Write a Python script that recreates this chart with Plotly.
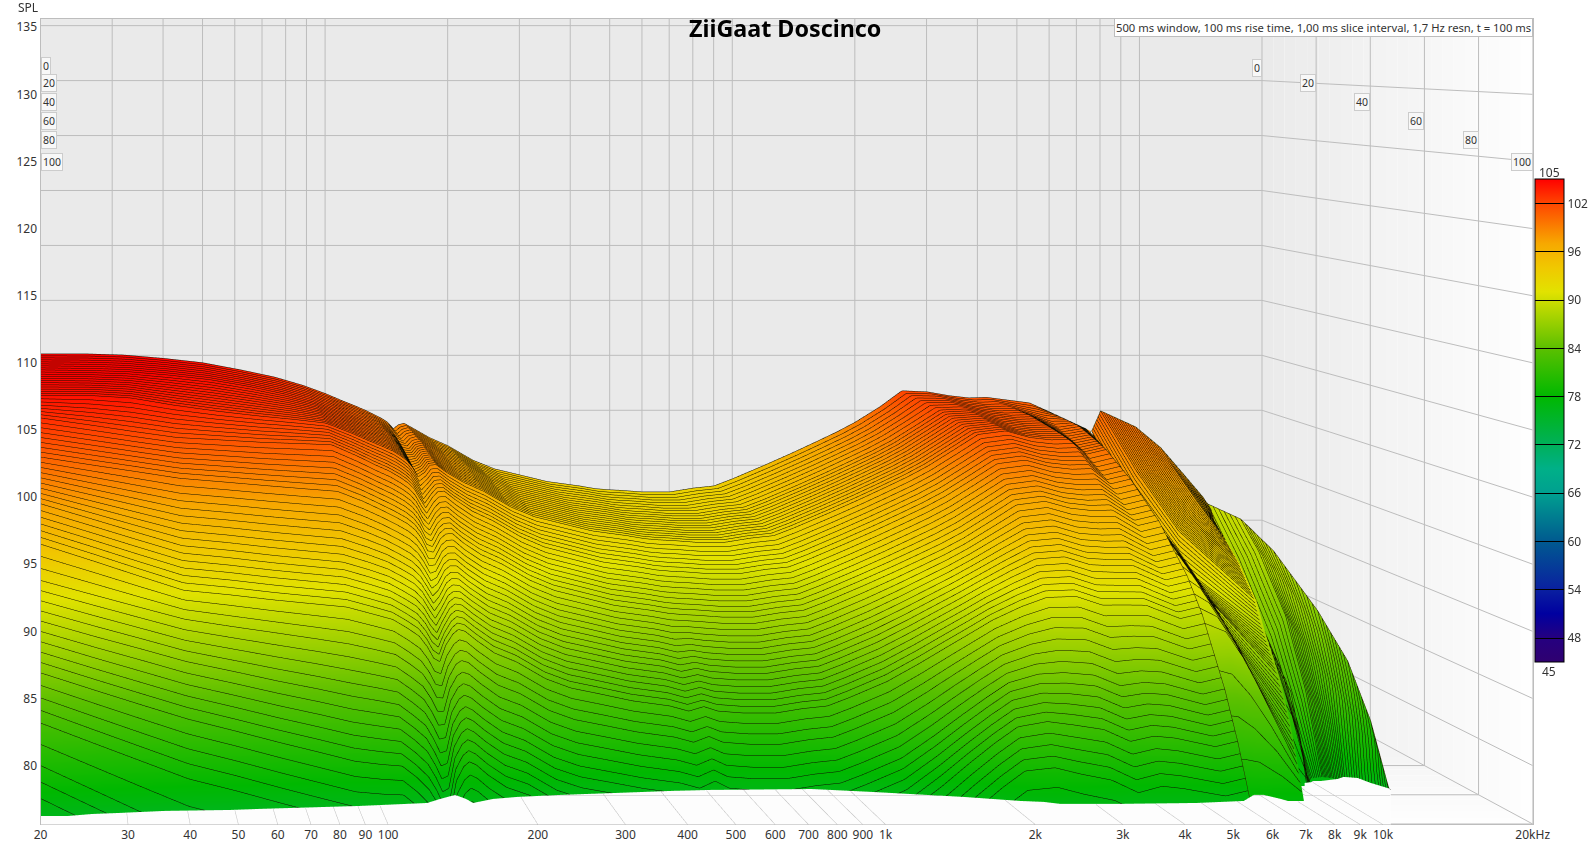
import numpy as np
import plotly.graph_objects as go

# ---------- chart values ----------
TITLE = "ZiiGaat Doscinco"
INFO = "500 ms window, 100 ms rise time, 1,00 ms slice interval, 1,7 Hz resn, t = 100 ms"
FREQ_TICKS = [20,30,40,50,60,70,80,90,100,200,300,400,500,600,700,800,900,1000,2000,3000,4000,5000,6000,7000,8000,9000,10000,20000]
FREQ_TEXT = ["20","30","40","50","60","70","80","90","100","200","300","400","500","600","700","800","900","1k","2k","3k","4k","5k","6k","7k","8k","9k","10k","20kHz"]
SPL_TICKS = [80,85,90,95,100,105,110,115,120,125,130,135]
TIME_TICKS = [0,20,40,60,80,100]
CBAR_TICKS = [48,54,60,66,72,78,84,90,96,102]

SLICE_MS = [0,20,40,50,60,70,76,80,85,90,94,97,99,100]
# running count of the drawn slice lines reached at each SLICE_MS row
LINE_COUNT = [0,8,20,27,35,44,50,53,57,62,66,68,70,71]
FREQ_HZ = [20,26,32,40,50,62,75,88,100,110,118,125,130,134,138,142,147,151,156,165,180,200,230,260,300,350,420,460,495,530,600,700,800,900,1000,1200,1400,1600,1800,2000,2300,2600,3000,3400,3800,4200]
# SPL per frequency, one value per slice in SLICE_MS
SPL_BY_FREQ = [
[105.2,105.1,104.2,103,100.5,97.5,94.8,92.3,89.6,86.1,82.7,79.8,77.55,76.3],
[105.2,105.05,104.2,102.4,99.85,96.25,93.45,91.15,88.4,84.75,81.1,77.85,75.5,74.2],
[105.1,104.95,104,101.9,99.35,95.25,92.35,90.25,87.5,83.7,79.85,76.3,73.9,72.6],
[104.8,104.65,103.4,101.4,98.8,94.2,91.2,89.3,86.5,82.6,78.5,74.7,72.1,70.8],
[104.4,104.25,102.9,101.2,98.5,93.85,90.85,88.75,85.75,81.7,77.6,73.8,71.25,70],
[103.75,103.65,102.5,101,98.2,93.45,90.45,88.25,85,80.8,76.65,72.9,70.35,69.25],
[103.1,103,102.2,100.9,97.95,93.15,90.15,87.8,84.4,80.05,75.85,72.15,69.6,68.55],
[102.35,102.3,101.9,100.8,97.75,92.9,89.9,87.4,83.85,79.4,75.2,71.5,69,68],
[101.6,101.55,101.1,99.9,96.95,92.3,89.35,86.95,83.5,79.15,75.1,71.55,69.1,68.1],
[100.95,100.9,100.43,99.15,96.23,91.78,88.93,86.58,83.2,79.03,75.1,71.7,69.32,68.29],
[100.5,100.45,99.96,98.65,95.66,91.18,88.26,85.83,82.37,78.16,74.17,70.72,68.36,67.33],
[100.1,100.05,99.55,98.11,95.14,90.63,87.63,85.13,81.6,77.23,73.19,69.59,67.25,66.21],
[99.8,99.75,99.14,97.67,94.62,89.98,86.8,84.23,80.52,76.2,72.01,68.36,66.04,64.99],
[99.55,99.4,98.78,97.18,93.95,89.17,85.92,83.27,79.5,75.12,71.07,67.57,65.27,64.22],
[99.3,98.95,98.21,96.38,92.98,88.47,85.65,83.22,79.67,75.45,71.54,68.39,66.11,65.06],
[99.0,98.35,97.4,95.64,92.86,89.22,86.92,84.82,81.7,77.92,74.36,71.26,69,67.94],
[98.4,98.25,97.79,96.5,93.94,90.27,87.79,85.82,82.72,78.99,75.38,72.33,70.09,69.02],
[98.75,98.75,98.38,96.96,94.32,90.61,88.16,86.11,83.05,79.36,75.79,72.79,70.57,69.5],
[98.9,98.9,98.43,97.01,94.37,90.56,88.01,85.96,82.8,79.11,75.54,72.44,70.22,69.15],
[98.4,98.35,97.76,96.31,93.6,89.86,87.29,85.21,82.07,78.34,74.81,71.86,69.66,68.59],
[97.6,97.55,96.95,95.37,92.68,88.91,86.31,84.21,81.1,77.41,73.93,71.03,68.85,67.77],
[96.85,96.8,96.19,94.58,91.91,88.21,85.63,83.56,80.47,76.83,73.4,70.55,68.39,67.3],
[95.55,95.5,94.89,93.28,90.61,86.91,84.33,82.26,79.17,75.53,72.1,69.25,67.09,66],
[94.75,94.7,94.08,92.43,89.79,86.15,83.6,81.55,78.5,74.9,71.51,68.71,66.57,65.48],
[94.2,94.15,93.51,91.84,89.22,85.65,83.13,81.1,78.07,74.53,71.18,68.43,66.31,65.22],
[93.6,93.55,92.9,91.2,88.6,85.1,82.6,80.6,77.6,74.1,70.8,68.1,66,64.9],
[93.2,93.15,92.5,90.8,88.2,84.7,82.2,80.2,77.2,73.7,70.4,67.7,65.6,64.5],
[92.95,92.9,92.25,90.55,87.95,84.3,81.8,79.8,76.8,73.3,70,67.3,65.2,64.1],
[92.85,92.8,92.15,90.45,87.85,84.55,82.15,80.25,77.35,73.85,70.55,67.85,65.75,64.65],
[92.8,92.75,92.1,90.4,87.8,84.3,81.8,79.8,76.8,73.3,70,67.3,65.2,64.1],
[92.65,92.6,91.95,90.25,87.65,84.15,81.65,79.65,76.65,73.15,69.85,67.15,65.05,63.95],
[92.65,92.6,91.95,90.25,87.65,84.15,81.65,79.65,76.65,73.15,69.85,67.15,65.05,63.95],
[93,92.95,92.3,90.6,88,84.5,82,80,77,73.5,70.2,67.5,65.4,64.3],
[93.2,93.15,92.5,90.8,88.2,84.7,82.2,80.2,77.2,73.7,70.4,67.7,65.6,64.5],
[93.85,93.8,93.15,91.45,88.85,85.35,82.85,80.85,77.85,74.35,71.05,68.35,66.25,65.15],
[95.1,95.05,94.4,92.7,90.1,86.6,84.1,82.1,79.1,75.6,72.3,69.6,67.5,66.4],
[96.2,96.15,95.5,93.8,91.2,87.86,85.48,83.6,80.8,77.5,74.32,71.66,69.6,68.5],
[97.2,97.15,96.5,94.8,92.2,89.02,86.76,85,82.4,79.3,76.24,73.62,71.6,70.5],
[98.1,98.05,97.4,95.7,93.1,90.04,87.87,86.2,83.75,80.8,77.83,75.24,73.25,72.15],
[99,98.95,98.3,96.6,94,91,88.88,87.25,84.88,82,79.08,76.5,74.53,73.43],
[100.4,100.35,99.7,98,95.4,92.2,89.93,88.15,85.53,82.4,79.33,76.7,74.68,73.58],
[101.85,101.6,100.95,99.25,96.65,93.15,90.65,88.65,85.65,82.15,78.85,76.15,74.05,72.95],
[101.75,101.7,101.25,99.55,96.95,93.32,90.72,88.62,85.46,81.8,78.4,75.67,73.54,72.44],
[101.4,101.35,100.7,99,96.4,92.7,90.05,87.9,84.65,80.9,77.45,74.7,72.55,71.45],
[101.2,101.15,100.5,98.8,96.2,92.62,90.06,88,84.9,81.3,77.94,75.22,73.1,72],
[101.25,101.2,100.55,98.85,96.25,92.63,90.04,87.95,84.8,81.15,77.76,75.03,72.9,71.8],
]
# last columns of the main body move with time, so each has its own Hz per slice
CREASE_HZ = [5347,4921,4560,4624,4770,4915,4959,4966,5027,5072,5108,5148,5164,5182]
CREASE_SPL = [100.75,100.1,99.3,97.6,95,91.5,89,87,84,80.5,77.2,74.5,72.4,71.3]
CREST_HZ = [5930,5458,5058,5129,5290,5451,5500,5508,5576,5626,5666,5710,5728,5748]
CREST_SPL = [100,100.35,99.7,98,95.4,91.9,89.4,87.4,84.4,80.9,77.6,74.9,72.8,71.7]
EDGE_HZ = [7551,5868,5073,5144,5306,5467,5516,5525,5593,5643,5683,5727,5745,5765]
EDGE_SPL = [98.2,99.65,99.6,97.9,95.3,91.8,89.3,87.3,84.3,80.8,77.5,74.8,72.7,71.6]

# the two high-frequency fins: one row per traced slice, points along the slice
FIN1_SLICE = [36,41,46,53,66,73,83,90,96,100]
FIN1_MS = [[50,50,53,53,53],[40,44,50,53,57],[25,35,44,53,60.5],[15,25,40,53,66],[5,15,40,57,74],
           [15,25,50,66,80],[25,50,60.5,74,87.5],[57,60.5,74,80,93],[80,80,87.5,93,97.5],[100,100,100,100,100]]
FIN1_LOG10HZ = [[3.871,3.875,3.865,3.869,3.8735],[3.876,3.869,3.8558,3.8603,3.8594],[3.9065,3.8708,3.8555,3.845,3.8627],
                [3.9029,3.8711,3.833,3.8273,3.8672],[3.8747,3.848,3.7721,3.7811,3.8654],[3.7982,3.7736,3.7097,3.7427,3.8534],
                [3.767,3.7097,3.7349,3.7682,3.8474],[3.7199,3.7565,3.7577,3.8033,3.8438],[3.7199,3.7721,3.7793,3.7949,3.8396],
                [3.7025,3.7328,3.7592,3.8075,3.8396]]
FIN1_SPL = [[96.46,96.21,96.2,95.95,95.63],[97.73,97.22,96.71,95.95,95.14],[98.71,98.36,97.38,96.2,94.07],
            [99.75,99.06,97.73,95.46,92.52],[100.41,99.39,97.9,94.33,90.18],[99.39,98.28,96.21,92.28,88.39],
            [98.45,97.03,94.23,90.18,85.61],[95.14,93.43,90.97,86.85,82.71],[89.17,88.39,86.75,84.22,79.77],
            [77.06,77.44,77.88,77.44,77.44]]
FIN2_SLICE = [40,45,50,57,65,73,79,84,88]
FIN2_MS = [[100,100,100,100,100],[89,89,100,100,100],[76,89,89,100,100],[59,76,89,89,100],[35,59,76,89,100],
           [17,35,59,89,100],[0,35,76,89,100],[59,76,89,89,100],[89,100,100,100,100]]
FIN2_LOG10HZ = [[4.01,4.0112,4.0121,4.0133,4.0142],[4.0283,4.0367,3.9839,3.986,3.9899],[4.0472,3.9935,4.0037,3.9539,3.9578],
                [4.0736,4.0031,3.9566,3.9668,3.9236],[4.1099,4.0151,3.965,3.9299,3.8975],[4.1402,4.0757,4.004,3.8951,3.8774],
                [4.166,4.0235,3.881,3.8705,3.8573],[3.863,3.8684,3.8642,3.8849,3.8453],[3.8231,3.803,3.8225,3.8411,3.8633]]
FIN2_SPL = [[78.41,78.33,78.33,78.29,78.26],[82.34,80.82,80.79,79.67,78.55],[85.69,84.62,81.96,80.79,78.55],
            [88.06,86.86,84.62,80.82,78.55],[90.76,89.67,86.47,82.72,78.93],[91.83,90.76,87.66,84.62,78.93],
            [91.56,89.92,87.25,82.34,78.93],[88.87,87.25,84.62,80.82,78.55],[80.82,79.67,78.55,78.55,78.55]]
FIN2_COLOUR_SHIFT_DB = -2.0

# where the coloured surface is cut off at the front
CUT_HZ = [20,22.7,25.4,28.9,35.6,48.1,55.3,87.7,119.7,127.1,136.2,143.3,148,162.4,181.5,221.6,288.4,372,443.7,708.2,939.9,1432,1863,2073,2243,2892,4208,5234,5353,5481,5741,6210,6415,6923,6937,8083,8310,8865,9416,10330]
CUT_SPL = [76.32,76.32,76.47,76.55,76.7,76.77,76.85,77.07,77.29,77.59,77.89,77.59,77.29,77.59,77.74,77.89,78.04,78.19,78.26,78.33,78.11,77.74,77.44,77.37,77.22,77.22,77.29,77.44,77.66,77.89,77.89,77.59,77.44,77.44,78.78,79.08,79.23,79.15,78.78,78.33]

# ---------- styles and layout ----------
W, H = 1590, 849
LEFT, RIGHT, TOP, BOTTOM = 40.5, 1532.7, 18.5, 824.0
SPL_MAX, SPL_MIN = 135.65, 75.65
BACK_SCALE = 0.8186
GRID = "#bdbdbd"
TEXT = "#333333"
FONT = "Noto Sans"
LINE = "#0f0f00"
COLORSCALE = [[(v-45)/60, c] for v, c in [
    (45,"#2f0070"),(48,"#250080"),(51,"#0000a0"),(54,"#0a20a0"),(60,"#005a90"),(66,"#00a090"),(69,"#00b088"),
    (72,"#00b05a"),(78,"#00b800"),(84,"#5cc000"),(91,"#e2e200"),(94,"#f0c800"),(97,"#f7a800"),(102,"#ff4500"),(105,"#ff0000")]]
FIN2_Z, FIN1_Z, MAIN_Z, CUT_Z, FLOOR_Z, Z_TOP = 0, 150, 300, 500, 550, 600
Z_ASPECT = 4.0
FIT = 2.0
CAM_DIST = 0.5
LEFT_LABEL_Y = [66, 83, 102, 121, 140, 162]
RIGHT_LABEL_Y = [67.7, 83, 102, 121, 140, 162]

LOG20, LOG20K = np.log10(20.0), np.log10(20000.0)

def depth_scale(ms):
    return BACK_SCALE + (1 - BACK_SCALE) * np.asarray(ms, float) / 100.0

def proj_logf(log10hz, ms):
    return LOG20 + depth_scale(ms) * (np.asarray(log10hz, float) - LOG20)

def proj_spl(spl, ms):
    return SPL_MAX - depth_scale(ms) * (SPL_MAX - np.asarray(spl, float))

def floor_strips():
    out = []
    n = 24
    for i in range(n):
        a, b = 100.0*i/n, 100.0*(i+1)/n
        g = int(234 + 21 * (i + 0.5) / n)
        col = f"rgb({g},{g},{g})"
        wx = [proj_logf(LOG20K, a), proj_logf(LOG20K, b), proj_logf(LOG20K, b), proj_logf(LOG20K, a), proj_logf(LOG20K, a)]
        wy = [proj_spl(SPL_MAX, a), proj_spl(SPL_MAX, b), proj_spl(SPL_MIN, b), proj_spl(SPL_MIN, a), proj_spl(SPL_MAX, a)]
        out.append(go.Scatter(x=10**np.array(wx), y=wy, mode="lines", fill="toself", fillcolor=col, line=dict(width=0), hoverinfo="skip", showlegend=False))
        fx = [proj_logf(LOG20, a), proj_logf(LOG20K, a), proj_logf(LOG20K, b), proj_logf(LOG20, b), proj_logf(LOG20, a)]
        fy = [proj_spl(SPL_MIN, a), proj_spl(SPL_MIN, a), proj_spl(SPL_MIN, b), proj_spl(SPL_MIN, b), proj_spl(SPL_MIN, a)]
        out.append(go.Scatter(x=10**np.array(fx), y=fy, mode="lines", fill="toself", fillcolor=col, line=dict(width=0), hoverinfo="skip", showlegend=False))
    return out

traces = []
bx = 10**proj_logf(np.array([LOG20, LOG20K, LOG20K, LOG20, LOG20]), 0)
by = proj_spl(np.array([SPL_MAX, SPL_MAX, SPL_MIN, SPL_MIN, SPL_MAX]), 0)
traces.append(go.Scatter(x=bx, y=by, mode="lines", fill="toself", fillcolor="rgb(234,234,234)", line=dict(width=0), hoverinfo="skip", showlegend=False))
traces += floor_strips()

gx, gy = [], []
def seg(f1, t1, s1, f2, t2, s2):
    gx.extend([10**proj_logf(np.log10(f1), t1), 10**proj_logf(np.log10(f2), t2), None])
    gy.extend([float(proj_spl(s1, t1)), float(proj_spl(s2, t2)), None])
for f in FREQ_TICKS:
    seg(f, 0, SPL_MIN, f, 0, SPL_MAX)
    seg(f, 0, SPL_MIN, f, 100, SPL_MIN)
for s in SPL_TICKS:
    seg(20, 0, s, 20000, 0, s)
    seg(20000, 0, s, 20000, 100, s)
for t in TIME_TICKS[1:]:
    seg(20000, t, SPL_MIN, 20000, t, SPL_MAX)
    seg(20, t, SPL_MIN, 20000, t, SPL_MIN)
traces.append(go.Scatter(x=gx, y=gy, mode="lines", line=dict(color=GRID, width=1), hoverinfo="skip", showlegend=False))

SURF = dict(cmin=45, cmax=105, colorscale=COLORSCALE, hoverinfo="skip",
            lighting=dict(ambient=1, diffuse=0, specular=0, roughness=1, fresnel=0), scene="scene")

def contour(base):
    return dict(z=dict(show=True, start=base+0.02, end=base+100, size=1, color=LINE, width=1, usecolormap=False, highlight=False),
                x=dict(highlight=False), y=dict(highlight=False))

for ms, lf, spl, sl, base, shift in [(FIN2_MS, FIN2_LOG10HZ, FIN2_SPL, FIN2_SLICE, FIN2_Z, FIN2_COLOUR_SHIFT_DB), (FIN1_MS, FIN1_LOG10HZ, FIN1_SPL, FIN1_SLICE, FIN1_Z, 0.0)]:
    ms = np.array(ms, float); lf = np.array(lf, float); spl = np.array(spl, float)
    z = np.repeat(np.array(sl, float)[:, None] + base, spl.shape[1], axis=1)
    traces.append(go.Surface(x=proj_logf(lf, ms), y=proj_spl(spl, ms), z=z, surfacecolor=spl + shift, showscale=False, contours=contour(base), **SURF))
    traces.append(go.Scatter3d(x=proj_logf(lf, ms)[:, 0], y=proj_spl(spl, ms)[:, 0], z=np.full(len(sl), base + 120.0), mode="lines",
                               line=dict(color="#2a2a00", width=1), hoverinfo="skip", showlegend=False, scene="scene"))

t_arr = np.array(SLICE_MS, float)
spl_main = np.column_stack([np.array(SPL_BY_FREQ, float).T, CREASE_SPL, CREST_SPL, EDGE_SPL])
log_main = np.column_stack([np.tile(np.log10(FREQ_HZ), (len(t_arr), 1)), np.log10(CREASE_HZ), np.log10(CREST_HZ), np.log10(EDGE_HZ)])
ms_main = np.tile(t_arr[:, None], (1, spl_main.shape[1]))
z_main = np.tile(np.array(LINE_COUNT, float)[:, None], (1, spl_main.shape[1])) + MAIN_Z
traces.append(go.Surface(x=proj_logf(log_main, ms_main), y=proj_spl(spl_main, ms_main), z=z_main, surfacecolor=spl_main,
                         showscale=True, contours=contour(MAIN_Z),
                         colorbar=dict(x=1535.3/W, xanchor="left", xpad=0, ypad=0, y=1-179.3/H, yanchor="top",
                                       lenmode="pixels", len=483, thicknessmode="pixels", thickness=29,
                                       tickmode="array", tickvals=CBAR_TICKS, ticktext=[str(v) for v in CBAR_TICKS],
                                       ticks="inside", ticklen=29, tickcolor="#000000", tickwidth=1,
                                       outlinecolor="#000000", outlinewidth=1, borderwidth=0,
                                       tickfont=dict(family=FONT, size=12, color=TEXT)), **SURF))
traces.append(go.Scatter3d(x=proj_logf(log_main, ms_main)[:, -1], y=proj_spl(spl_main, ms_main)[:, -1], z=np.full(len(t_arr), MAIN_Z + 120.0), mode="lines",
                           line=dict(color="#2a2a00", width=1), hoverinfo="skip", showlegend=False, scene="scene"))

cut_log = np.log10(CUT_HZ)
cut_spl = np.array(CUT_SPL)
traces.append(go.Surface(x=np.vstack([cut_log, cut_log]), y=np.vstack([cut_spl, np.full_like(cut_spl, SPL_MIN - 0.3)]), z=np.full((2, len(cut_log)), float(CUT_Z)),
                         surfacecolor=np.zeros((2, len(cut_log))), showscale=False, cmin=0, cmax=1, colorscale=[[0, "#fdfdfd"], [1, "#fdfdfd"]],
                         hoverinfo="skip", lighting=dict(ambient=1, diffuse=0, specular=0, roughness=1, fresnel=0), scene="scene"))
lx, ly = [LOG20, LOG20K, None], [SPL_MIN + 0.03, SPL_MIN + 0.03, None]
for f in FREQ_TICKS:
    ts = np.linspace(0, 100, 201)
    px = proj_logf(np.log10(f), ts); py = proj_spl(SPL_MIN, ts)
    keep = (py < np.interp(px, cut_log, cut_spl)) & (px < cut_log[-1])
    if keep.any():
        lx += list(px[keep]) + [None]; ly += list(py[keep]) + [None]
for t in TIME_TICKS[4:]:
    fs = np.linspace(LOG20, LOG20K, 1500)
    px = proj_logf(fs, t); py = proj_spl(SPL_MIN, t) * np.ones_like(fs)
    keep = (py < np.interp(px, cut_log, cut_spl)) & (px < cut_log[-1])
    run = []
    for a, b, k in zip(px, py, keep):
        if k:
            run.append((a, b))
        elif run:
            lx += [r[0] for r in run] + [None]; ly += [r[1] for r in run] + [None]; run = []
    if run:
        lx += [r[0] for r in run] + [None]; ly += [r[1] for r in run] + [None]
traces.append(go.Scatter3d(x=lx, y=ly, z=[None if v is None else float(FLOOR_Z) for v in lx], mode="lines", line=dict(color=GRID, width=1),
                           hoverinfo="skip", showlegend=False, scene="scene"))

fig = go.Figure(traces)

def note(text, px, py, size=12, color=TEXT, xanchor="center", **kw):
    return dict(text=text, x=px/W, y=1-py/H, xref="paper", yref="paper", xanchor=xanchor, yanchor="middle", showarrow=False,
                font=dict(family=FONT, size=size, color=color), **kw)

annots = [
    note(f"<b>{TITLE}</b>", 785, 28, size=23.3, color="#000000"),
    note(INFO, RIGHT, 27, size=11.25, xanchor="right", bgcolor="#ffffff", bordercolor=GRID, borderwidth=1, borderpad=1),
    note("SPL", 28, 7.5),
    note("105", 1549, 172),
    note("45", 1549, 671),
]
for t, ly_, ry_ in zip(TIME_TICKS, LEFT_LABEL_Y, RIGHT_LABEL_Y):
    box = dict(bgcolor="#f8f8f8", bordercolor="#cccccc", borderwidth=1, borderpad=1)
    annots.append(note(str(t), LEFT, ly_, size=10.5, xanchor="left", **box))
    annots.append(note(str(t), LEFT + float(depth_scale(t))*(RIGHT-LEFT), ry_, size=10.5, xanchor="right", **box))

dom_x = [LEFT/W, RIGHT/W]
dom_y = [1-BOTTOM/H, 1-TOP/H]
cz = Z_ASPECT/2 + 0.2
fig.update_layout(
    width=W, height=H, margin=dict(l=0, r=0, t=0, b=0, autoexpand=False), paper_bgcolor="#ffffff", plot_bgcolor="#ffffff", showlegend=False,
    annotations=annots, hovermode=False,
    xaxis=dict(type="log", domain=dom_x, range=[LOG20, LOG20K], tickmode="array", tickvals=FREQ_TICKS, ticktext=FREQ_TEXT, showgrid=False, zeroline=False,
               showline=True, mirror=True, linecolor=GRID, linewidth=1, ticks="", tickfont=dict(family=FONT, size=12, color=TEXT), tickangle=0),
    yaxis=dict(domain=dom_y, range=[SPL_MIN, SPL_MAX], tickmode="array", tickvals=SPL_TICKS, showgrid=False, zeroline=False,
               showline=True, mirror=True, linecolor=GRID, linewidth=1, ticks="", tickfont=dict(family=FONT, size=12, color=TEXT)),
    scene=dict(domain=dict(x=dom_x, y=dom_y), bgcolor="rgba(0,0,0,0)", aspectmode="manual",
               aspectratio=dict(x=FIT*(RIGHT-LEFT)/(BOTTOM-TOP), y=FIT, z=Z_ASPECT),
               xaxis=dict(visible=False, range=[LOG20, LOG20K]), yaxis=dict(visible=False, range=[SPL_MIN, SPL_MAX]), zaxis=dict(visible=False, range=[0, Z_TOP]),
               camera=dict(eye=dict(x=0, y=0, z=cz + CAM_DIST), up=dict(x=0, y=1, z=0), center=dict(x=0, y=0, z=cz), projection=dict(type="orthographic")),
               dragmode=False),
)
fig.write_html("out.html", config=dict(displayModeBar=False), post_script="document.body.style.margin='0';document.body.style.overflow='hidden';")
